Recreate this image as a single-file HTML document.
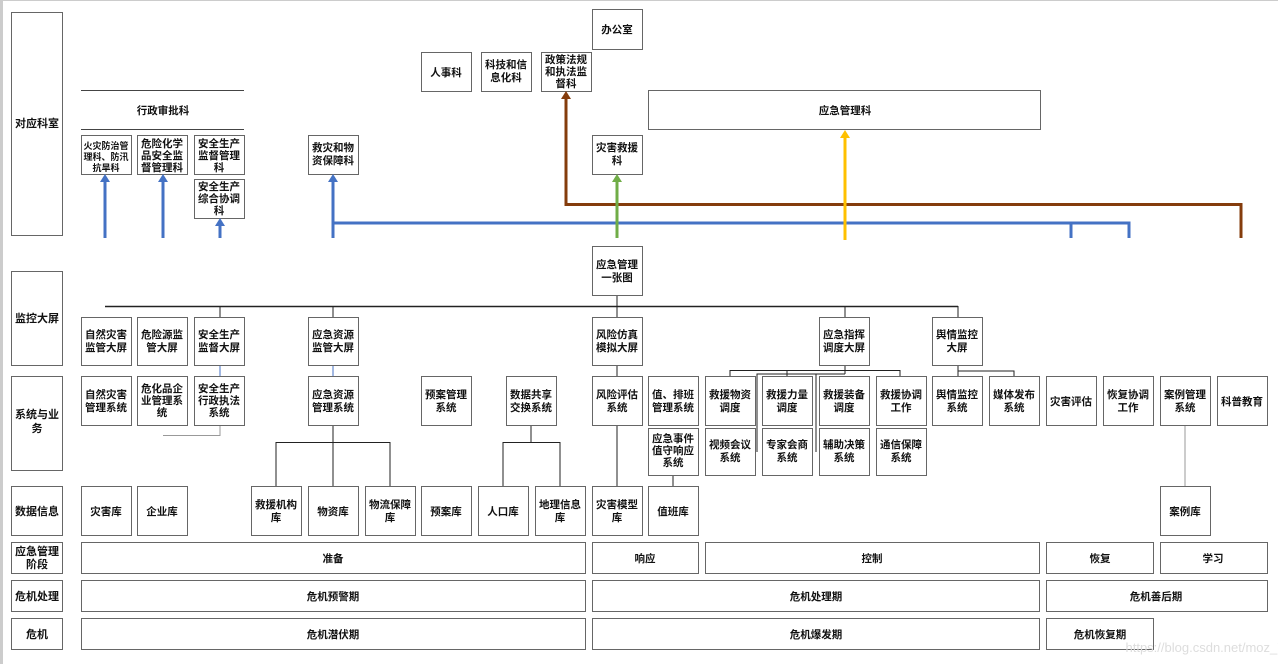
<!DOCTYPE html>
<html><head><meta charset="utf-8">
<style>
html,body{margin:0;padding:0;background:#fff;}
svg{display:block;}
text{font-family:"Liberation Sans","Noto Sans CJK SC",sans-serif;font-size:10.5px;fill:#111;text-anchor:middle;font-weight:bold;}
.lab{font-size:11px;}
.b{fill:#fff;stroke:#666;stroke-width:1;}
.k{stroke:#222;stroke-width:1;fill:none;}
.g{stroke:#999;stroke-width:1;fill:none;}
</style></head><body>
<svg width="1278" height="664" viewBox="0 0 1278 664" xmlns="http://www.w3.org/2000/svg">
<rect x="0" y="0" width="3" height="664" fill="#ccc"/>
<rect x="0" y="0" width="1278" height="1" fill="#ccc"/>

<!-- left labels -->
<rect class="b" x="11.5" y="12.5" width="51" height="223"/><text class="lab" x="37" y="127">对应科室</text>
<rect class="b" x="11.5" y="271.5" width="51" height="94"/><text class="lab" x="37" y="322">监控大屏</text>
<rect class="b" x="11.5" y="376.5" width="51" height="94"/><text class="lab" x="37" y="418">系统与业</text><text class="lab" x="37" y="432">务</text>
<rect class="b" x="11.5" y="486.5" width="51" height="49"/><text class="lab" x="37" y="515">数据信息</text>
<rect class="b" x="11.5" y="542.5" width="51" height="31"/><text class="lab" x="37" y="555">应急管理</text><text class="lab" x="37" y="568">阶段</text>
<rect class="b" x="11.5" y="580.5" width="51" height="31"/><text class="lab" x="37" y="600">危机处理</text>
<rect class="b" x="11.5" y="618.5" width="51" height="31"/><text class="lab" x="37" y="638">危机</text>

<!-- top section -->
<line x1="81" y1="90.5" x2="244" y2="90.5" stroke="#444"/>
<line x1="81" y1="129.5" x2="244" y2="129.5" stroke="#444"/>
<text x="163" y="114">行政审批科</text>
<rect class="b" x="81.5" y="135.5" width="50" height="39"/><text x="106" y="149" style="font-size:9px">火灾防治管</text><text x="106" y="160" style="font-size:9px">理科、防汛</text><text x="106" y="171" style="font-size:9px">抗旱科</text>
<rect class="b" x="137.5" y="135.5" width="50" height="39"/><text x="162" y="147">危险化学</text><text x="162" y="159">品安全监</text><text x="162" y="171">督管理科</text>
<rect class="b" x="194.5" y="135.5" width="50" height="39"/><text x="219" y="147">安全生产</text><text x="219" y="159">监督管理</text><text x="219" y="171">科</text>
<rect class="b" x="194.5" y="179.5" width="50" height="39"/><text x="219" y="190">安全生产</text><text x="219" y="202">综合协调</text><text x="219" y="214">科</text>
<rect class="b" x="308.5" y="135.5" width="50" height="39"/><text x="333" y="151">救灾和物</text><text x="333" y="164">资保障科</text>

<rect class="b" x="592.5" y="9.5" width="50" height="40"/><text x="617" y="33">办公室</text>
<rect class="b" x="421.5" y="52.5" width="50" height="39"/><text x="446" y="76">人事科</text>
<rect class="b" x="481.5" y="52.5" width="50" height="39"/><text x="506" y="68">科技和信</text><text x="506" y="81">息化科</text>
<rect class="b" x="541.5" y="52.5" width="50" height="39"/><text x="566" y="63">政策法规</text><text x="566" y="75">和执法监</text><text x="566" y="87">督科</text>
<rect class="b" x="648.5" y="90.5" width="392" height="39"/><text x="845" y="114">应急管理科</text>
<rect class="b" x="592.5" y="135.5" width="50" height="39"/><text x="617" y="151">灾害救援</text><text x="617" y="164">科</text>

<!-- colored connectors -->
<g stroke="#4472c4" stroke-width="3" fill="none">
<line x1="105" y1="238" x2="105" y2="180"/>
<line x1="163" y1="238" x2="163" y2="180"/>
<line x1="220" y1="238" x2="220" y2="224"/>
<line x1="333" y1="238" x2="333" y2="180"/>
<polyline points="333,223 1129,223 1129,238"/>
<line x1="1071" y1="223" x2="1071" y2="238"/>
</g>
<g fill="#4472c4">
<path d="M100,182 L105,174 L110,182z"/><path d="M158,182 L163,174 L168,182z"/>
<path d="M215,226 L220,218 L225,226z"/><path d="M328,182 L333,174 L338,182z"/>
</g>
<polyline points="566,97 566,204.5 1241,204.5 1241,238" stroke="#843c0c" stroke-width="3" fill="none"/>
<path d="M561,99 L566,91 L571,99z" fill="#843c0c"/>
<line x1="617" y1="238" x2="617" y2="180" stroke="#70ad47" stroke-width="3"/>
<path d="M612,182 L617,174 L622,182z" fill="#70ad47"/>
<line x1="845" y1="240" x2="845" y2="136" stroke="#ffc000" stroke-width="3"/>
<path d="M840,138 L845,130 L850,138z" fill="#ffc000"/>

<!-- 一张图 -->
<rect class="b" x="592.5" y="246.5" width="50" height="49"/><text x="617" y="268">应急管理</text><text x="617" y="281">一张图</text>
<line class="k" x1="105" y1="306.5" x2="958" y2="306.5" style="stroke-width:1.5"/>
<line class="k" x1="617" y1="296" x2="617" y2="317"/>
<g class="k"><line x1="220" y1="306" x2="220" y2="317"/><line x1="333" y1="306" x2="333" y2="317"/><line x1="845" y1="306" x2="845" y2="317"/><line x1="958" y1="306" x2="958" y2="317"/></g>

<!-- monitor row -->
<rect class="b" x="81.5" y="317.5" width="50" height="48"/><text x="106" y="338">自然灾害</text><text x="106" y="351">监管大屏</text>
<rect class="b" x="137.5" y="317.5" width="50" height="48"/><text x="162" y="338">危险源监</text><text x="162" y="351">管大屏</text>
<rect class="b" x="194.5" y="317.5" width="50" height="48"/><text x="219" y="338">安全生产</text><text x="219" y="351">监督大屏</text>
<rect class="b" x="308.5" y="317.5" width="50" height="48"/><text x="333" y="338">应急资源</text><text x="333" y="351">监管大屏</text>
<rect class="b" x="592.5" y="317.5" width="50" height="48"/><text x="617" y="338">风险仿真</text><text x="617" y="351">模拟大屏</text>
<rect class="b" x="819.5" y="317.5" width="50" height="48"/><text x="844" y="338">应急指挥</text><text x="844" y="351">调度大屏</text>
<rect class="b" x="932.5" y="317.5" width="50" height="48"/><text x="957" y="338">舆情监控</text><text x="957" y="351">大屏</text>
<g stroke="#4472c4" stroke-width="1"><line x1="220" y1="366" x2="220" y2="376"/><line x1="333" y1="366" x2="333" y2="376"/></g>
<line class="k" x1="617" y1="366" x2="617" y2="376"/>

<!-- 指挥 tree -->
<g class="k">
<line x1="845" y1="366" x2="845" y2="374"/>
<polyline points="730,376 730,370.5 900,370.5 900,376"/>
<polyline points="757,452 757,374 845,374"/>
<line x1="816" y1="374" x2="816" y2="452"/>
<line x1="787" y1="370" x2="787" y2="376"/>
<line x1="958" y1="366" x2="958" y2="376"/>
<polyline points="958,371 1014,371 1014,376"/>
</g>

<!-- system row -->
<g>
<rect class="b" x="81.5" y="376.5" width="50" height="49"/><text x="106" y="398">自然灾害</text><text x="106" y="411">管理系统</text>
<rect class="b" x="137.5" y="376.5" width="50" height="49"/><text x="162" y="392">危化品企</text><text x="162" y="404">业管理系</text><text x="162" y="416">统</text>
<rect class="b" x="194.5" y="376.5" width="50" height="49"/><text x="219" y="392">安全生产</text><text x="219" y="404">行政执法</text><text x="219" y="416">系统</text>
<rect class="b" x="308.5" y="376.5" width="50" height="49"/><text x="333" y="398">应急资源</text><text x="333" y="411">管理系统</text>
<rect class="b" x="421.5" y="376.5" width="50" height="49"/><text x="446" y="398">预案管理</text><text x="446" y="411">系统</text>
<rect class="b" x="506.5" y="376.5" width="50" height="49"/><text x="531" y="398">数据共享</text><text x="531" y="411">交换系统</text>
<rect class="b" x="592.5" y="376.5" width="50" height="49"/><text x="617" y="398">风险评估</text><text x="617" y="411">系统</text>
<rect class="b" x="648.5" y="376.5" width="50" height="49"/><text x="673" y="398">值、排班</text><text x="673" y="411">管理系统</text>
<rect class="b" x="705.5" y="376.5" width="50" height="49"/><text x="730" y="398">救援物资</text><text x="730" y="411">调度</text>
<rect class="b" x="762.5" y="376.5" width="50" height="49"/><text x="787" y="398">救援力量</text><text x="787" y="411">调度</text>
<rect class="b" x="819.5" y="376.5" width="50" height="49"/><text x="844" y="398">救援装备</text><text x="844" y="411">调度</text>
<rect class="b" x="876.5" y="376.5" width="50" height="49"/><text x="901" y="398">救援协调</text><text x="901" y="411">工作</text>
<rect class="b" x="932.5" y="376.5" width="50" height="49"/><text x="957" y="398">舆情监控</text><text x="957" y="411">系统</text>
<rect class="b" x="989.5" y="376.5" width="50" height="49"/><text x="1014" y="398">媒体发布</text><text x="1014" y="411">系统</text>
<rect class="b" x="1046.5" y="376.5" width="50" height="49"/><text x="1071" y="405">灾害评估</text>
<rect class="b" x="1103.5" y="376.5" width="50" height="49"/><text x="1128" y="398">恢复协调</text><text x="1128" y="411">工作</text>
<rect class="b" x="1160.5" y="376.5" width="50" height="49"/><text x="1185" y="398">案例管理</text><text x="1185" y="411">系统</text>
<rect class="b" x="1217.5" y="376.5" width="50" height="49"/><text x="1242" y="405">科普教育</text>
<rect class="b" x="648.5" y="428.5" width="50" height="47"/><text x="673" y="442">应急事件</text><text x="673" y="454">值守响应</text><text x="673" y="466">系统</text>
<rect class="b" x="705.5" y="428.5" width="50" height="47"/><text x="730" y="448">视频会议</text><text x="730" y="461">系统</text>
<rect class="b" x="762.5" y="428.5" width="50" height="47"/><text x="787" y="448">专家会商</text><text x="787" y="461">系统</text>
<rect class="b" x="819.5" y="428.5" width="50" height="47"/><text x="844" y="448">辅助决策</text><text x="844" y="461">系统</text>
<rect class="b" x="876.5" y="428.5" width="50" height="47"/><text x="901" y="448">通信保障</text><text x="901" y="461">系统</text>
</g>

<!-- lower connectors -->
<polyline class="g" points="163,435.5 220,435.5 220,426"/>
<g class="k">
<line x1="333" y1="426" x2="333" y2="486"/>
<polyline points="276,486 276,442.5 390,442.5 390,486"/>
<line x1="531" y1="426" x2="531" y2="442"/>
<polyline points="503,486 503,442.5 560,442.5 560,486"/>
<line x1="617" y1="426" x2="617" y2="486"/>
<line x1="673" y1="476" x2="673" y2="486"/>
</g>
<line class="g" x1="1185" y1="426" x2="1185" y2="486"/>

<!-- data row -->
<rect class="b" x="81.5" y="486.5" width="50" height="49"/><text x="106" y="515">灾害库</text>
<rect class="b" x="137.5" y="486.5" width="50" height="49"/><text x="162" y="515">企业库</text>
<rect class="b" x="251.5" y="486.5" width="50" height="49"/><text x="276" y="508">救援机构</text><text x="276" y="521">库</text>
<rect class="b" x="308.5" y="486.5" width="50" height="49"/><text x="333" y="515">物资库</text>
<rect class="b" x="365.5" y="486.5" width="50" height="49"/><text x="390" y="508">物流保障</text><text x="390" y="521">库</text>
<rect class="b" x="421.5" y="486.5" width="50" height="49"/><text x="446" y="515">预案库</text>
<rect class="b" x="478.5" y="486.5" width="50" height="49"/><text x="503" y="515">人口库</text>
<rect class="b" x="535.5" y="486.5" width="50" height="49"/><text x="560" y="508">地理信息</text><text x="560" y="521">库</text>
<rect class="b" x="592.5" y="486.5" width="50" height="49"/><text x="617" y="508">灾害模型</text><text x="617" y="521">库</text>
<rect class="b" x="648.5" y="486.5" width="50" height="49"/><text x="673" y="515">值班库</text>
<rect class="b" x="1160.5" y="486.5" width="50" height="49"/><text x="1185" y="515">案例库</text>

<!-- stages -->
<rect class="b" x="81.5" y="542.5" width="504" height="31"/><text x="333" y="562">准备</text>
<rect class="b" x="592.5" y="542.5" width="106" height="31"/><text x="645" y="562">响应</text>
<rect class="b" x="705.5" y="542.5" width="334" height="31"/><text x="872" y="562">控制</text>
<rect class="b" x="1046.5" y="542.5" width="107" height="31"/><text x="1100" y="562">恢复</text>
<rect class="b" x="1160.5" y="542.5" width="107" height="31"/><text x="1213" y="562">学习</text>
<rect class="b" x="81.5" y="580.5" width="504" height="31"/><text x="333" y="600">危机预警期</text>
<rect class="b" x="592.5" y="580.5" width="447" height="31"/><text x="816" y="600">危机处理期</text>
<rect class="b" x="1046.5" y="580.5" width="221" height="31"/><text x="1156" y="600">危机善后期</text>
<rect class="b" x="81.5" y="618.5" width="504" height="31"/><text x="333" y="638">危机潜伏期</text>
<rect class="b" x="592.5" y="618.5" width="447" height="31"/><text x="816" y="638">危机爆发期</text>
<rect class="b" x="1046.5" y="618.5" width="107" height="31"/><text x="1100" y="638">危机恢复期</text>
<text x="1205" y="652" style="font-size:13px;fill:#ddd;font-weight:normal">https://blog.csdn.net/moz_7</text>
</svg>
</body></html>
